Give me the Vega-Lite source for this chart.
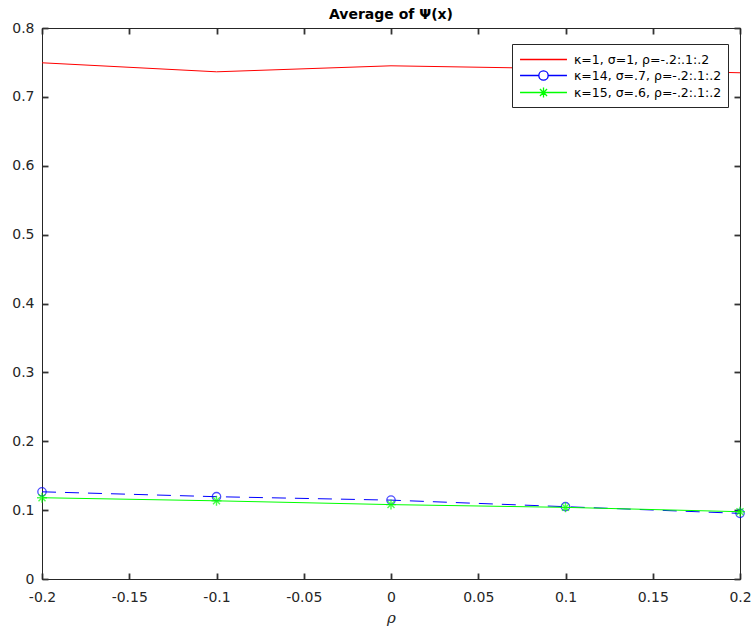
{
  "$schema": "https://vega.github.io/schema/vega-lite/v6.json",
  "width": 698,
  "height": 551,
  "autosize": {"type": "none"},
  "padding": {"left": 42, "top": 28, "right": 15, "bottom": 53},
  "background": "white",
  "config": {
    "font": "DejaVu Sans",
    "view": {"stroke": "#262626", "strokeWidth": 1},
    "axis": {
      "grid": false,
      "domain": true,
      "domainColor": "#262626",
      "domainWidth": 1,
      "tickColor": "#333333",
      "labelColor": "#262626",
      "labelFont": "DejaVu Sans",
      "labelFontSize": 14,
      "tickSize": -6,
      "tickWidth": 1.8
    }
  },
  "title": {
    "text": "Average of Ψ(x)",
    "font": "DejaVu Sans",
    "fontSize": 14,
    "fontWeight": "bold",
    "color": "#000000",
    "anchor": "middle",
    "offset": -1
  },
  "data": {
    "values": [
      {"series": "A", "rho": -0.2, "avg": 0.7495},
      {"series": "A", "rho": -0.1, "avg": 0.7364},
      {"series": "A", "rho": 0.0, "avg": 0.7451},
      {"series": "A", "rho": 0.1, "avg": 0.741},
      {"series": "A", "rho": 0.2, "avg": 0.735},
      {"series": "B", "rho": -0.2, "avg": 0.1266},
      {"series": "B", "rho": -0.1, "avg": 0.1195},
      {"series": "B", "rho": 0.0, "avg": 0.1145},
      {"series": "B", "rho": 0.1, "avg": 0.105},
      {"series": "B", "rho": 0.2, "avg": 0.0953},
      {"series": "C", "rho": -0.2, "avg": 0.118},
      {"series": "C", "rho": -0.1, "avg": 0.1135},
      {"series": "C", "rho": 0.0, "avg": 0.108},
      {"series": "C", "rho": 0.1, "avg": 0.104},
      {"series": "C", "rho": 0.2, "avg": 0.0977}
    ]
  },
  "layer": [
    {
      "transform": [{"filter": "datum.series === 'A'"}],
      "mark": {"type": "line", "color": "#ff0000", "strokeWidth": 1},
      "encoding": {
        "x": {
          "field": "rho", "type": "quantitative",
          "scale": {"domain": [-0.2, 0.2], "nice": false, "zero": false},
          "axis": {
            "orient": "bottom",
            "values": [-0.2, -0.15, -0.1, -0.05, 0, 0.05, 0.1, 0.15, 0.2],
            "format": "~g",
            "labelExpr": "replace(datum.label, '−', '-')",
            "labelPadding": 17,
            "labelFlush": false,
            "labelOverlap": false,
            "title": "ρ",
            "titleFont": "DejaVu Serif",
            "titleFontStyle": "italic",
            "titleFontWeight": "normal",
            "titleFontSize": 15,
            "titleColor": "#262626",
            "titlePadding": 6
          }
        },
        "y": {
          "field": "avg", "type": "quantitative",
          "scale": {"domain": [0, 0.8], "nice": false},
          "axis": {
            "orient": "left",
            "values": [0, 0.1, 0.2, 0.3, 0.4, 0.5, 0.6, 0.7, 0.8],
            "format": "~g",
            "labelPadding": 14,
            "labelFlush": false,
            "labelOverlap": false,
            "title": null
          }
        }
      }
    },
    {
      "transform": [{"filter": "datum.series === 'B'"}],
      "mark": {"type": "line", "color": "#0000ff", "strokeWidth": 1, "strokeDash": [14, 9]},
      "encoding": {
        "x": {"field": "rho", "type": "quantitative", "axis": null},
        "y": {"field": "avg", "type": "quantitative", "axis": null}
      }
    },
    {
      "transform": [{"filter": "datum.series === 'B'"}],
      "mark": {"type": "point", "shape": "circle", "filled": false, "color": "#0000ff", "strokeWidth": 1.3, "size": 70},
      "encoding": {
        "x": {"field": "rho", "type": "quantitative", "axis": null},
        "y": {"field": "avg", "type": "quantitative", "axis": null}
      }
    },
    {
      "transform": [{"filter": "datum.series === 'C'"}],
      "mark": {"type": "line", "color": "#00ff00", "strokeWidth": 1},
      "encoding": {
        "x": {"field": "rho", "type": "quantitative", "axis": null},
        "y": {"field": "avg", "type": "quantitative", "axis": null}
      }
    },
    {
      "transform": [{"filter": "datum.series === 'C'"}],
      "mark": {"type": "point", "shape": "M0,-1V1M-1,0H1M-0.7,-0.7L0.7,0.7M-0.7,0.7L0.7,-0.7", "filled": false, "color": "#00ff00", "strokeWidth": 1.4, "size": 100},
      "encoding": {
        "x": {"field": "rho", "type": "quantitative", "axis": null},
        "y": {"field": "avg", "type": "quantitative", "axis": null}
      }
    },
    {
      "transform": [{"filter": "datum.series === 'none'"}],
      "mark": {"type": "point", "filled": false, "strokeWidth": 1},
      "encoding": {
        "x": {"field": "rho", "type": "quantitative", "axis": null},
        "y": {"field": "avg", "type": "quantitative", "axis": null},
        "color": {
          "field": "series", "type": "nominal",
          "scale": {"domain": ["A", "B", "C"], "range": ["#ff0000", "#0000ff", "#00ff00"]},
          "legend": {
            "orient": "none",
            "legendX": 470,
            "legendY": 16,
            "title": null,
            "labelExpr": "datum.value === 'A' ? 'κ=1, σ=1, ρ=-.2:.1:.2' : datum.value === 'B' ? 'κ=14, σ=.7, ρ=-.2:.1:.2' : 'κ=15, σ=.6, ρ=-.2:.1:.2'",
            "labelFont": "DejaVu Sans",
            "labelFontSize": 12.5,
            "labelColor": "#000000",
            "labelLimit": 300,
            "labelOffset": 21,
            "symbolSize": 289,
            "symbolOffset": 16,
            "symbolOpacity": 1,
            "symbolStrokeWidth": 1.3,
            "symbolFillColor": "transparent",
            "fillColor": "#ffffff",
            "strokeColor": "#262626",
            "padding": 6,
            "rowPadding": 0
          }
        },
        "shape": {
          "field": "series", "type": "nominal",
          "scale": {
            "domain": ["A", "B", "C"],
            "range": [
              "M-2.76,0H2.76",
              "M-2.76,0H-0.55M0.55,0H2.76M0.55,0A0.55,0.55 0 1,1 -0.55,0A0.55,0.55 0 1,1 0.55,0",
              "M-2.76,0H2.76M0,-0.6V0.6M-0.6,0H0.6M-0.42,-0.42L0.42,0.42M-0.42,0.42L0.42,-0.42"
            ]
          }
        }
      }
    },
    {
      "mark": {"type": "point", "opacity": 0},
      "encoding": {
        "x": {
          "field": "rho", "type": "quantitative",
          "axis": {"orient": "top", "values": [-0.2, -0.15, -0.1, -0.05, 0, 0.05, 0.1, 0.15, 0.2], "labels": false, "title": null}
        },
        "y": {
          "field": "avg", "type": "quantitative",
          "axis": {"orient": "right", "values": [0, 0.1, 0.2, 0.3, 0.4, 0.5, 0.6, 0.7, 0.8], "labels": false, "title": null}
        }
      }
    }
  ],
  "resolve": {"axis": {"x": "independent", "y": "independent"}}
}
